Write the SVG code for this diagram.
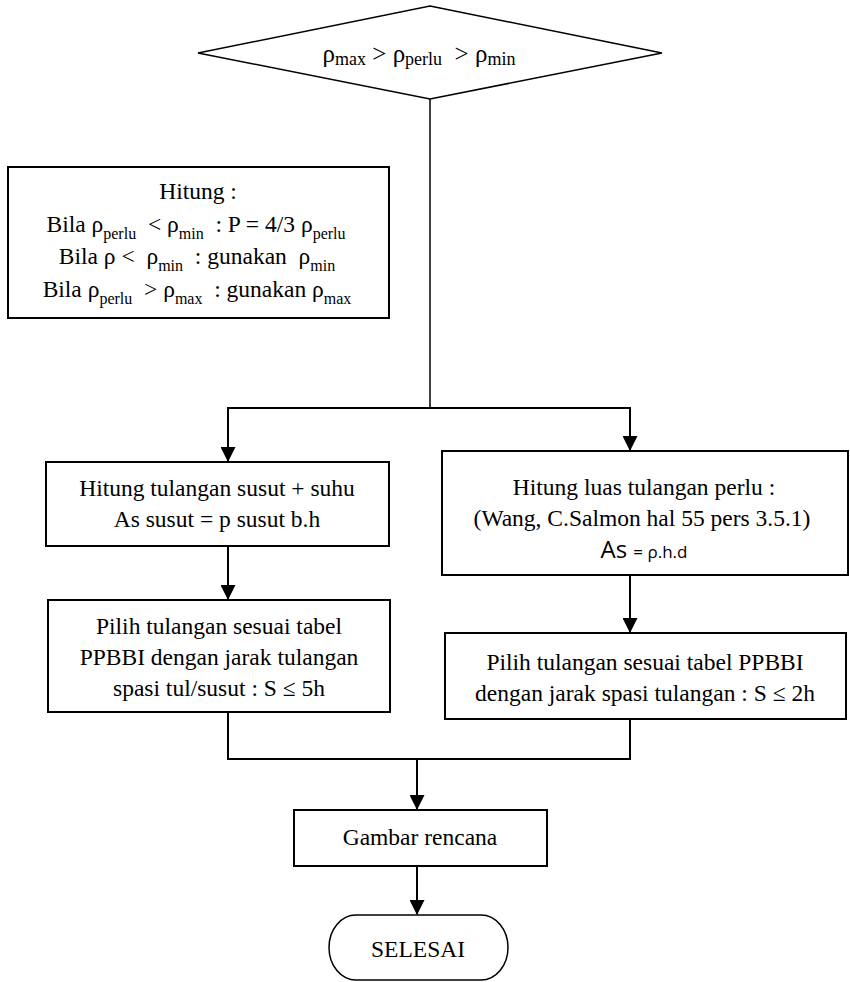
<svg xmlns="http://www.w3.org/2000/svg" width="850" height="982" viewBox="0 0 850 982">
  <style>
    .box { fill: #ffffff; stroke: #000000; stroke-width: 2; }
    .thin { fill: #ffffff; stroke: #000000; stroke-width: 1.5; }
    .t { font-family: "Liberation Serif", "Times New Roman", serif; font-size: 23.5px; fill: #000000; text-anchor: middle; white-space: pre; }
    .sub { font-size: 16px; }
    .sans { font-family: "Open Sans", "Noto Sans", "Liberation Sans", sans-serif; }
    .wire { fill: none; stroke: #000000; stroke-width: 2; }
  </style>
  <defs>
    <marker id="arrow" markerWidth="15" markerHeight="15" refX="14" refY="7.5" orient="auto" markerUnits="userSpaceOnUse">
      <path d="M0,0 L15,7.5 L0,15 Z" fill="#000000"/>
    </marker>
  </defs>

  <!-- connectors -->
  <g id="connectors">
    <path class="wire" d="M430,99 V408" style="stroke-width:1.5"/>
    <path class="wire" d="M430,408 H228 V461" marker-end="url(#arrow)"/>
    <path class="wire" d="M430,408 H630 V450" marker-end="url(#arrow)"/>
    <path class="wire" d="M228,546 V599" marker-end="url(#arrow)"/>
    <path class="wire" d="M630,576 V632" marker-end="url(#arrow)"/>
    <path class="wire" d="M228,712 V759 H630 V719"/>
    <path class="wire" d="M417,759 V809" marker-end="url(#arrow)"/>
    <path class="wire" d="M417,866 V914" marker-end="url(#arrow)"/>
  </g>

  <!-- decision -->
  <g id="decision">
    <polygon class="thin" points="430,6 662,53 430,99 198,53"/>
    <text class="t" x="419" y="62" style="font-size:25px">ρ<tspan class="sub" dy="3" style="font-size:18px">max</tspan><tspan dy="-3"> &gt; ρ</tspan><tspan class="sub" dy="3" style="font-size:18px">perlu</tspan><tspan dy="-3">  &gt; ρ</tspan><tspan class="sub" dy="3" style="font-size:18px">min</tspan></text>
  </g>

  <!-- rules for the reinforcement ratio -->
  <g id="rules">
    <rect class="box" x="8" y="167" width="381" height="151"/>
    <text class="t" x="198" y="199">Hitung :</text>
    <text class="t" x="196" y="232">Bila ρ<tspan class="sub" dy="7">perlu</tspan><tspan dy="-7">  &lt; ρ</tspan><tspan class="sub" dy="7">min</tspan><tspan dy="-7">  : P = 4/3 ρ</tspan><tspan class="sub" dy="7">perlu</tspan></text>
    <text class="t" x="197" y="264">Bila ρ &lt;  ρ<tspan class="sub" dy="7">min</tspan><tspan dy="-7">  : gunakan  ρ</tspan><tspan class="sub" dy="7">min</tspan></text>
    <text class="t" x="197" y="297">Bila ρ<tspan class="sub" dy="7">perlu</tspan><tspan dy="-7">  &gt; ρ</tspan><tspan class="sub" dy="7">max</tspan><tspan dy="-7">  : gunakan ρ</tspan><tspan class="sub" dy="7">max</tspan></text>
  </g>

  <!-- shrinkage and temperature steel -->
  <g id="shrinkage">
    <rect class="box" x="46" y="462" width="343" height="84"/>
    <text class="t" x="217" y="496">Hitung tulangan susut + suhu</text>
    <text class="t" x="217" y="527">As susut = p susut b.h</text>
  </g>

  <g id="shrinkage-bars">
    <rect class="box" x="48" y="600" width="342" height="112"/>
    <text class="t" x="219" y="634">Pilih tulangan sesuai tabel</text>
    <text class="t" x="219" y="665">PPBBI dengan jarak tulangan</text>
    <text class="t" x="219" y="696">spasi tul/susut : S ≤ 5h</text>
  </g>

  <!-- required steel area -->
  <g id="required-area">
    <rect class="box" x="442" y="451" width="406" height="124"/>
    <text class="t" x="644" y="495">Hitung luas tulangan perlu :</text>
    <text class="t" x="642" y="526">(Wang, C.Salmon hal 55 pers 3.5.1)</text>
    <text class="t sans" x="644" y="558" style="font-size:24px">As <tspan style="font-size:17px">= ρ.h.d</tspan></text>
  </g>

  <g id="main-bars">
    <rect class="box" x="445" y="633" width="401" height="86"/>
    <text class="t" x="645" y="670">Pilih tulangan sesuai tabel PPBBI</text>
    <text class="t" x="645" y="701">dengan jarak spasi tulangan : S ≤ 2h</text>
  </g>

  <!-- drawing -->
  <g id="drawing">
    <rect class="box" x="294" y="810" width="253" height="56"/>
    <text class="t" x="420" y="845">Gambar rencana</text>
  </g>

  <!-- terminator -->
  <g id="end">
    <path class="thin" d="M356,915 H481 A27,32.5 0 0 1 481,980 H356 A27,32.5 0 0 1 356,915 Z"/>
    <text class="t" x="418" y="957">SELESAI</text>
  </g>
</svg>
